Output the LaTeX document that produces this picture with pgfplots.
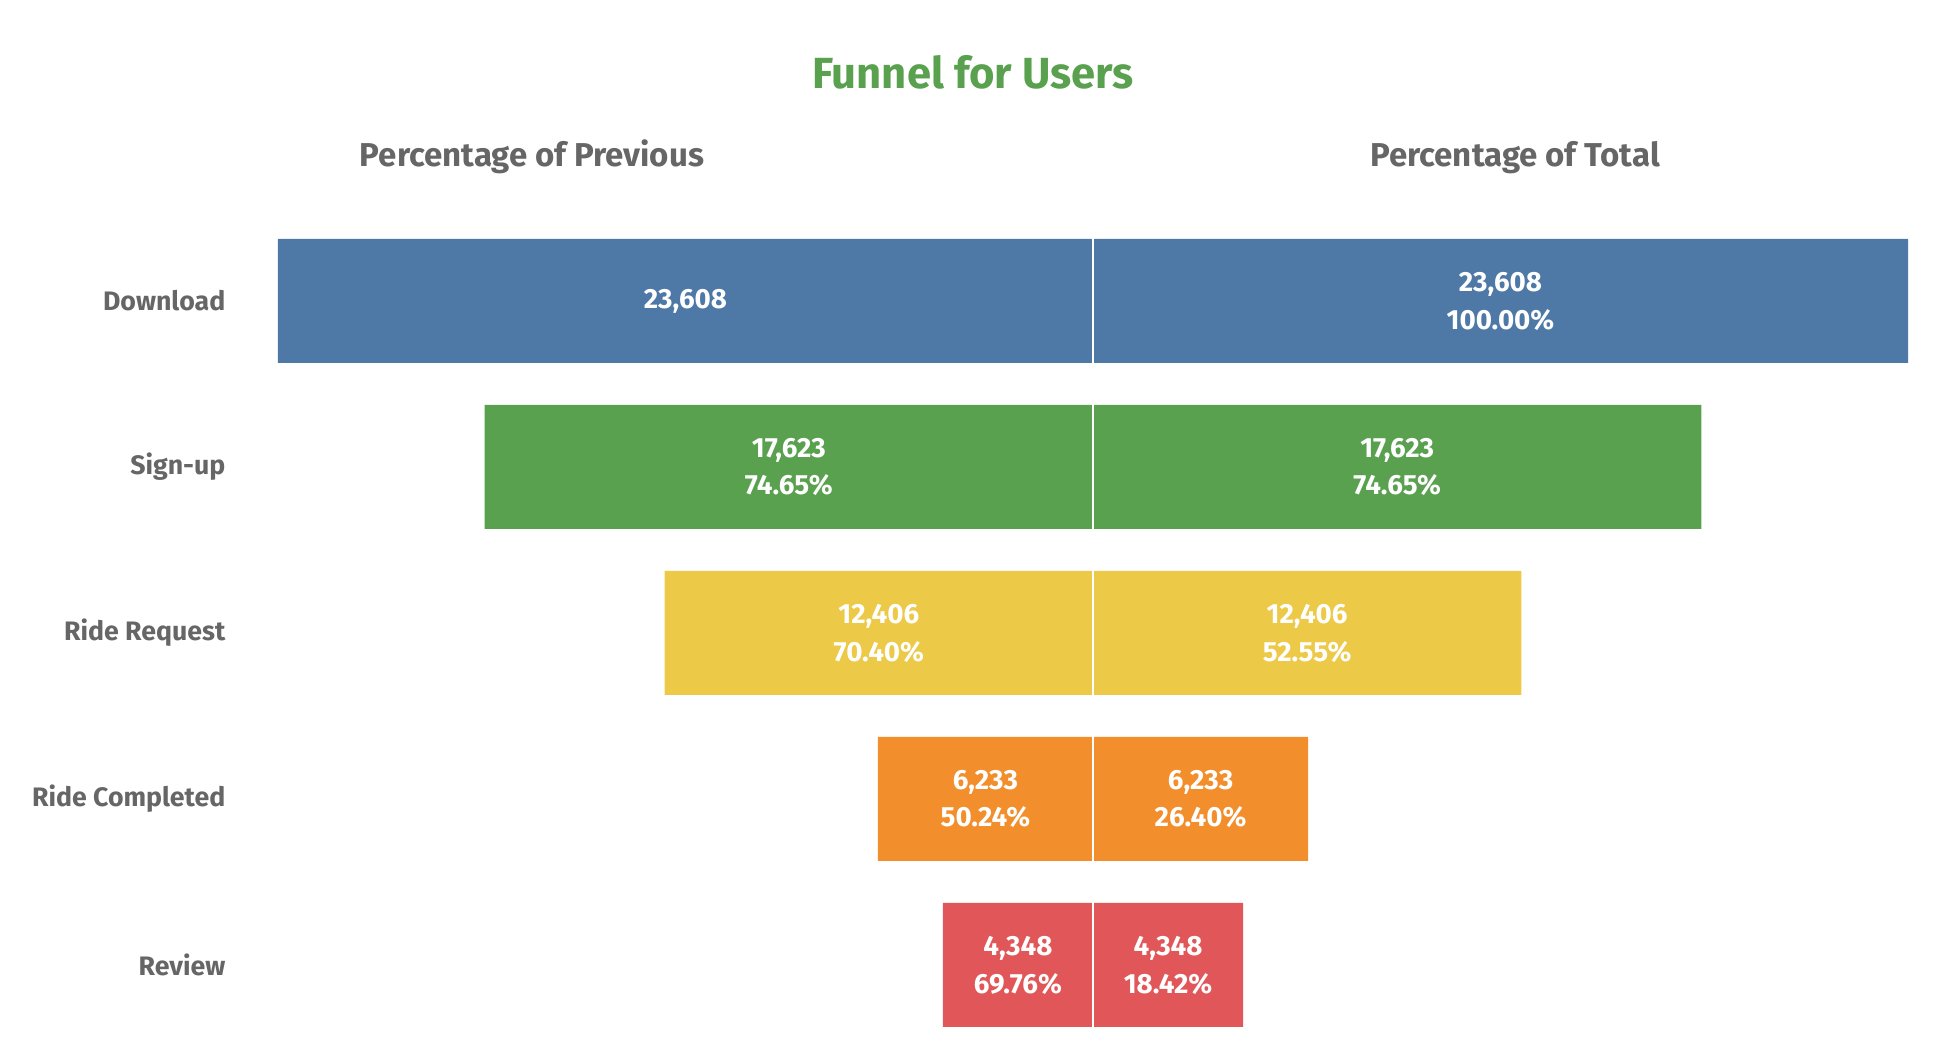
\documentclass[border=0pt]{standalone}
\usepackage{fontspec}
\setmainfont{Fira Sans}
\usepackage{pgfplots}
\pgfplotsset{compat=1.18}
\definecolor{tblue}{HTML}{4E79A7}
\definecolor{tgreen}{HTML}{59A14F}
\definecolor{tyellow}{HTML}{EDC948}
\definecolor{torange}{HTML}{F28E2B}
\definecolor{tred}{HTML}{E15759}
\definecolor{tgray}{HTML}{666666}
\tikzset{lbl/.style={font=\bfseries\fontsize{7.9}{10.8}\selectfont, text=white, align=center, inner sep=0pt}}
\begin{document}
\begin{tikzpicture}
% axis rectangle lower-left is at the origin; picture spans 194.6mm x 105.7mm
\path[use as bounding box] (-27.8mm,-0.9mm) rectangle (166.8mm,104.8mm);
\node[font=\bfseries\fontsize{12.4}{14}\selectfont, text=tgreen, anchor=base, inner sep=0pt] at (69.5mm,95.9mm) {Funnel for Users};
\node[font=\bfseries\fontsize{9.4}{11}\selectfont, text=tgray, anchor=base, inner sep=0pt] at (25.4mm,88.1mm) {Percentage of Previous};
\node[font=\bfseries\fontsize{9.4}{11}\selectfont, text=tgray, anchor=base, inner sep=0pt] at (123.7mm,88.1mm) {Percentage of Total};
\begin{axis}[
  width=163mm, height=83mm, scale only axis,
  xmin=-23608, xmax=23608, ymin=-0.5, ymax=4.5,
  axis line style={draw=none}, tick style={draw=none},
  xtick=\empty, ytick={0,1,2,3,4},
  yticklabels={Review,Ride Completed,Ride Request,Sign-up,Download},
  yticklabel style={font=\bfseries\fontsize{7.6}{9}\selectfont, text=tgray, inner sep=0pt, anchor=east, xshift=-5.2mm},
  bar width=0.747, clip=false,
]
\addplot[xbar, bar shift=0pt, fill=tblue, draw=none] coordinates {(-23608,4) (23608,4)};
\addplot[xbar, bar shift=0pt, fill=tgreen, draw=none] coordinates {(-17623,3) (17623,3)};
\addplot[xbar, bar shift=0pt, fill=tyellow, draw=none] coordinates {(-12406,2) (12406,2)};
\addplot[xbar, bar shift=0pt, fill=torange, draw=none] coordinates {(-6233,1) (6233,1)};
\addplot[xbar, bar shift=0pt, fill=tred, draw=none] coordinates {(-4348,0) (4348,0)};
\draw[white, line width=0.2mm] (axis cs:0,-0.5) -- (axis cs:0,4.5);
\node[lbl] at (axis cs:-11804,4) {23,608};
\node[lbl] at (axis cs:11804,4) {23,608\\100.00\%};
\node[lbl] at (axis cs:-8811.5,3) {17,623\\74.65\%};
\node[lbl] at (axis cs:8811.5,3) {17,623\\74.65\%};
\node[lbl] at (axis cs:-6203,2) {12,406\\70.40\%};
\node[lbl] at (axis cs:6203,2) {12,406\\52.55\%};
\node[lbl] at (axis cs:-3116.5,1) {6,233\\50.24\%};
\node[lbl] at (axis cs:3116.5,1) {6,233\\26.40\%};
\node[lbl] at (axis cs:-2174,0) {4,348\\69.76\%};
\node[lbl] at (axis cs:2174,0) {4,348\\18.42\%};
\end{axis}
\end{tikzpicture}
\end{document}
